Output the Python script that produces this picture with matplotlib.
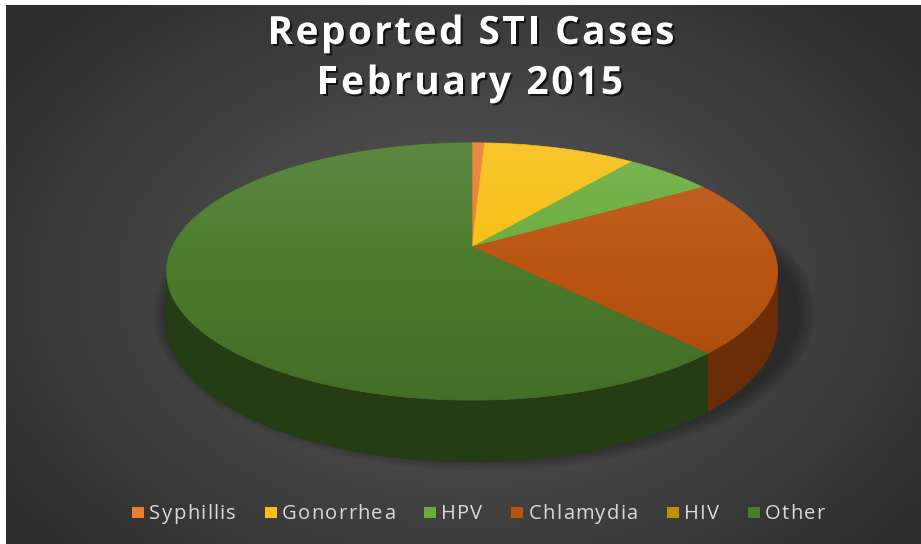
import numpy as np
import matplotlib.pyplot as plt
from matplotlib.patches import Polygon, Rectangle, Ellipse
import matplotlib.patheffects as pe

# Reported STI cases, share of total (%)
labels = ["Syphillis", "Gonorrhea", "HPV", "Chlamydia", "HIV", "Other"]
values = [0.8, 9.7, 5.6, 22.1, 0.0, 61.8]
colors = ["#ED7D31", "#F7BF14", "#6AAD3E", "#BA5410", "#BF9000", "#4B7A2B"]
side_colors = ["#8A4519", "#8F6E08", "#3D6623", "#6B2D07", "#6E5300", "#243D14"]
title_lines = ["Reported STI Cases", "February 2015"]

FONT = "Open Sans"
W, H = 921, 544
fig = plt.figure(figsize=(W / 100, H / 100), dpi=100)
fig.patch.set_facecolor("white")
ax = fig.add_axes([0, 0, 1, 1])
ax.set_xlim(0, W)
ax.set_ylim(H, 0)
ax.axis("off")
renderer = fig.canvas.get_renderer()


def text_width(s, **kw):
    t = ax.text(0, 0, s, **kw)
    w = t.get_window_extent(renderer).width
    t.remove()
    return w


def tracked(x, y, s, track=0.0, target=None, ha="center", **kw):
    # draw a string letter by letter with extra spacing between letters
    bar = text_width("|", **kw)
    offs = [text_width(s[:k] + "|", **kw) - bar if k else 0.0 for k in range(len(s))]
    plain = text_width(s, **kw)
    if target is not None:
        track = (target - plain) / (len(s) - 1)
    full = plain + track * (len(s) - 1)
    x0 = x - full / 2 if ha == "center" else x
    for k, ch in enumerate(s):
        if ch != " ":
            ax.text(x0 + offs[k] + k * track, y, ch, ha="left", va="baseline", **kw)
    return full


# dark radial background
yy, xx = np.mgrid[0:H - 5, 0:W - 6]
r = np.sqrt(((xx - 460) / 520.0) ** 2 + ((yy - 280) / 360.0) ** 2)
g = np.clip(0.36 - 0.17 * r, 0.18, 0.36)
ax.imshow(np.dstack([g, g, g]), extent=(6, W, H, 5), zorder=0, interpolation="bilinear")

# projection of the tilted disc (simple perspective)
cx, cy, A, B, p, depth = 472, 247, 300, 124, 0.19, 50


def proj(theta, d=0.0):
    t = np.radians(theta)
    X, Y = np.sin(t), np.cos(t)
    w = 1 + p * Y
    return cx + A * X / w, cy - B * Y / w + d / w


# soft shadow under the pie
for k in range(6):
    ax.add_patch(Ellipse((cx + 12, cy + 66), 632 + 6 * k, 290 + 5 * k,
                         color="black", alpha=0.06, lw=0, zorder=1))

total = sum(values)
bounds = np.concatenate([[0], np.cumsum(values) / total * 360])
left_ext = np.degrees(np.arccos(-p))
front = (left_ext, 360 - left_ext)

# side band
for i in range(len(values)):
    a0, a1 = max(bounds[i], front[0]), min(bounds[i + 1], front[1])
    if a1 <= a0:
        continue
    th = np.linspace(a0, a1, 120)
    tx, ty = proj(th)
    bx, by = proj(th[::-1], depth)
    ax.add_patch(Polygon(np.column_stack([np.r_[tx, bx], np.r_[ty, by]]),
                         closed=True, fc=side_colors[i], ec=side_colors[i], lw=0.5, zorder=2))

# top face
for i in range(len(values)):
    if values[i] == 0:
        continue
    th = np.linspace(bounds[i], bounds[i + 1], 200)
    tx, ty = proj(th)
    pts = np.column_stack([np.r_[cx, tx], np.r_[cy, ty]])
    ax.add_patch(Polygon(pts, closed=True, fc=colors[i], ec=colors[i], lw=0.5, zorder=3))

# light-to-dark sheen over the top face
th = np.linspace(0, 360, 400)
ex, ey = proj(th)
clip = Polygon(np.column_stack([ex, ey]), closed=True, fc="none", ec="none",
               transform=ax.transData)
ax.add_patch(clip)
grad = np.linspace(0, 1, 256)[:, None]
sheen = np.zeros((256, 1, 4))
sheen[..., :3] = np.where(grad < 0.5, 1.0, 0.0)[..., None]
sheen[..., 3] = np.abs(grad - 0.5) * 0.22
im = ax.imshow(sheen, extent=(160, 790, 405, 140), zorder=4, aspect="auto",
               interpolation="bilinear")
im.set_clip_path(clip)

# title, letter-spaced like the original
shadow = [pe.withSimplePatchShadow(offset=(1.5, -1.5), shadow_rgbFace="black", alpha=0.7)]
title_kw = dict(fontsize=28, fontweight="bold", family=FONT, color="white",
                path_effects=shadow, zorder=6)
tracked(471, 44, title_lines[0], target=407, **title_kw)
tracked(470, 94, title_lines[1], target=306, **title_kw)

# legend, laid out by hand
leg_kw = dict(fontsize=14.5, family=FONT, color="#D9D9D9", zorder=6)
track, sq, gap_in, gap_out = 1.3, 12, 5, 29
widths = []
for lab in labels:
    plain = text_width(lab, fontsize=14.5, family=FONT)
    widths.append(plain + track * (len(lab) - 1))
full = sum(sq + gap_in + w for w in widths) + gap_out * (len(labels) - 1)
x = 478.5 - full / 2
for lab, c, w in zip(labels, colors, widths):
    ax.add_patch(Rectangle((x, 507), sq, 11, fc=c, ec="none", zorder=6))
    tracked(x + sq + gap_in, 519, lab, track=track, ha="left", **leg_kw)
    x += sq + gap_in + w + gap_out

fig.savefig("out.png", dpi=100, facecolor="white")
